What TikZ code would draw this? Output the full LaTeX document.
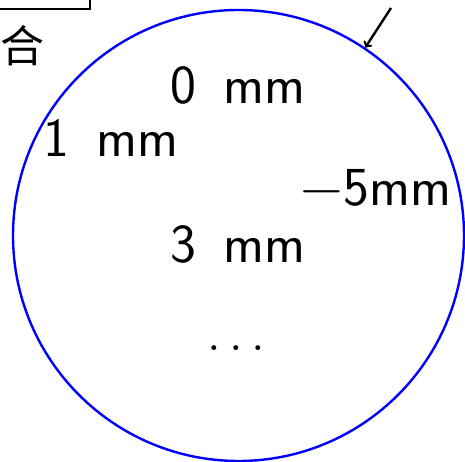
\documentclass[tikz,border=0pt]{standalone}
\usepackage{fontspec}
\usepackage{unicode-math}
\newfontfamily\cjk{Noto Sans CJK SC}
\newcommand{\gap}{\hspace{0.5em}}
\tikzset{
	mmtext/.style={font=\fontsize{55}{64}\selectfont\sffamily, inner sep=0pt},
}
\begin{document}
\begin{tikzpicture}[x=1pt, y=1pt, line width=1pt]
		\useasboundingbox (0,0) rectangle (465,462);
		\node (ring) [circle, draw=blue, line width=2.4pt, minimum size=451pt, inner sep=0pt] at (238.5,226.5) {};
		\node (box) [draw, line width=1.6pt, minimum width=130pt, minimum height=40pt] at (25,473) {};
		\node (he) [font=\fontsize{44}{50}\selectfont\cjk, inner sep=0pt] at (22,416) {合};
		
		\node (zero) [mmtext] at (238,377) {0\gap mm};
		\node (one) [mmtext] at (111,324) {1\gap mm};
		\node (five) [mmtext] at (376,274) {$-$5mm};
		\node (three) [mmtext] at (238,218) {3\gap mm};
		\node (dots) [mmtext, font=\fontsize{50}{60}\selectfont] at (236,114) {$\mathinner{\ldotp\ldotp\ldotp}$};
		
		\coordinate (ptr) at (391,454);
		\draw[->, line width=2.4pt] (ptr)--(ring.56);
	\end{tikzpicture}
\end{document}
